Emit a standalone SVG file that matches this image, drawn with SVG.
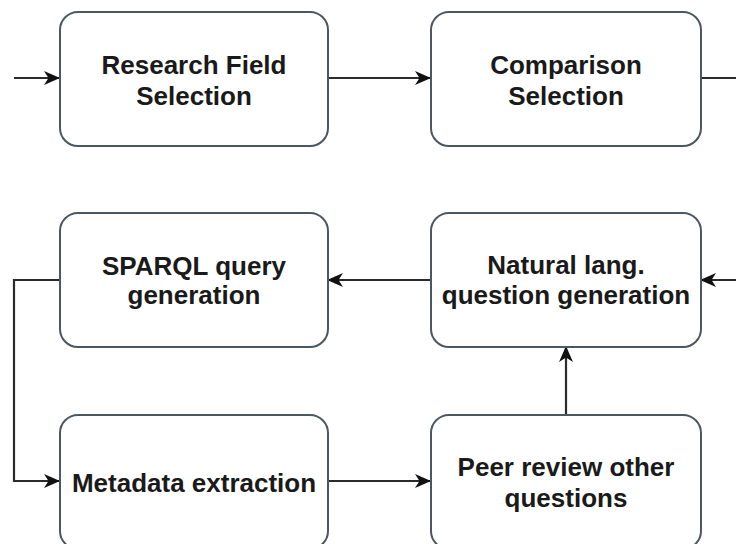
<svg xmlns="http://www.w3.org/2000/svg" width="736" height="544" viewBox="0 0 736 544">
  <style>
    .box { fill: #ffffff; stroke: #4d5761; stroke-width: 2; }
    .lbl { font-family: "Liberation Sans", Arial, sans-serif; font-weight: bold; font-size: 26px; fill: #1a1a1a; text-anchor: middle; }
    .edge { fill: none; stroke: #2b2b2b; stroke-width: 2.2; }
  </style>
  <defs>
    <marker id="arrow" viewBox="0 0 16 14" refX="15" refY="7" markerWidth="16" markerHeight="14" markerUnits="userSpaceOnUse" orient="auto">
      <path d="M0,0 L16,7 L0,14 L4.5,7 Z" fill="#111111"/>
    </marker>
  </defs>
  <rect width="736" height="544" fill="#ffffff"/>

  <g id="connectors">
    <path class="edge" d="M14,78 L59,78" marker-end="url(#arrow)"/>
    <path class="edge" d="M328,78 L430,78" marker-end="url(#arrow)"/>
    <path class="edge" d="M701,78 L742,78 L742,280 L701,280" marker-end="url(#arrow)"/>
    <path class="edge" d="M430,280 L328,280" marker-end="url(#arrow)"/>
    <path class="edge" d="M59,280 L14,280 L14,481 L59,481" marker-end="url(#arrow)"/>
    <path class="edge" d="M328,481 L430,481" marker-end="url(#arrow)"/>
    <path class="edge" d="M566,415 L566,347" marker-end="url(#arrow)"/>
  </g>

  <g id="research-field-selection">
    <rect class="box" x="60" y="12" width="268" height="134" rx="18"/>
    <text class="lbl" x="194" y="74">Research Field</text>
    <text class="lbl" x="194" y="105">Selection</text>
  </g>

  <g id="comparison-selection">
    <rect class="box" x="431" y="12" width="270" height="134" rx="18"/>
    <text class="lbl" x="566" y="74">Comparison</text>
    <text class="lbl" x="566" y="105">Selection</text>
  </g>

  <g id="sparql-query-generation">
    <rect class="box" x="60" y="213" width="268" height="134" rx="18"/>
    <text class="lbl" x="194" y="275">SPARQL query</text>
    <text class="lbl" x="194" y="304">generation</text>
  </g>

  <g id="natural-language-question-generation">
    <rect class="box" x="431" y="213" width="270" height="134" rx="18"/>
    <text class="lbl" x="566" y="274">Natural lang.</text>
    <text class="lbl" x="566" y="304">question generation</text>
  </g>

  <g id="metadata-extraction">
    <rect class="box" x="60" y="415" width="268" height="134" rx="18"/>
    <text class="lbl" x="194" y="492">Metadata extraction</text>
  </g>

  <g id="peer-review-other-questions">
    <rect class="box" x="431" y="415" width="270" height="134" rx="18"/>
    <text class="lbl" x="566" y="476">Peer review other</text>
    <text class="lbl" x="566" y="507">questions</text>
  </g>
</svg>
